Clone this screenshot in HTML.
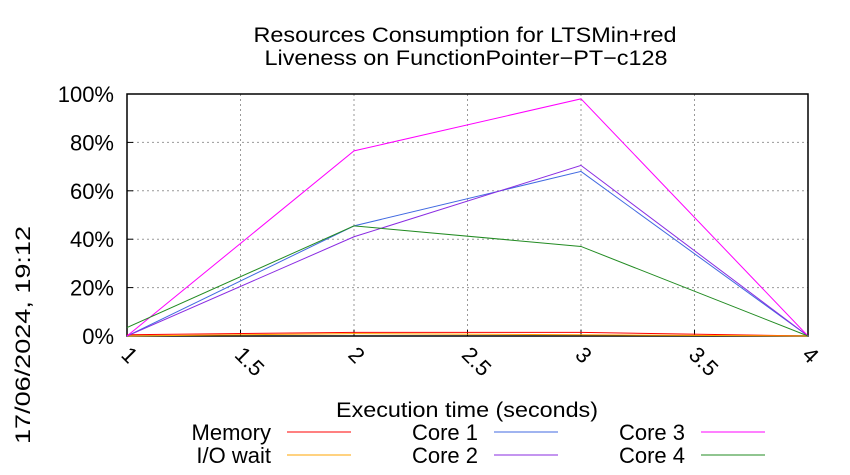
<!DOCTYPE html>
<html><head><meta charset="utf-8"><style>
body{margin:0;background:#fff;}
svg{display:block;font-family:"Liberation Sans",sans-serif;}
</style></head><body>
<svg id="chart" width="850" height="475" viewBox="0 0 850 475">
<text x="465" y="42" text-anchor="middle" font-size="21" textLength="423" lengthAdjust="spacingAndGlyphs">Resources Consumption for LTSMin+red</text>
<text x="466" y="65" text-anchor="middle" font-size="21" textLength="403" lengthAdjust="spacingAndGlyphs">Liveness on FunctionPointer−PT−c128</text>
<g id="grid"></g><g id="axes"></g><g id="series"></g>
<text x="467" y="417" text-anchor="middle" font-size="21" textLength="262" lengthAdjust="spacingAndGlyphs">Execution time (seconds)</text>
<text transform="translate(30,335) rotate(-90)" text-anchor="middle" font-size="21" textLength="218" lengthAdjust="spacingAndGlyphs">17/06/2024, 19:12</text>
<g id="legend"></g>
</svg>
<script>
const xValues=[1,2,3,4];
const memory=[0.5,1.5,1.5,0];
const ioWait=[0,1,0.5,0];
const core1=[0,45.5,68,0];
const core2=[0,41,70.5,0];
const core3=[0,76.5,98,0];
const core4=[3.5,45.5,37,0];
const xTicks=[1,1.5,2,2.5,3,3.5,4];
const xTickLabels=["1","1.5","2","2.5","3","3.5","4"];
const yTicks=[0,20,40,60,80,100];
const yTickLabels=["0%","20%","40%","60%","80%","100%"];
const NS="http://www.w3.org/2000/svg";
const L=127,R=808,T=94,B=336;
const xs=v=>L+(v-1)/3*(R-L);
const ys=v=>B-v/100*(B-T);
function mk(tag,attrs,parent){const e=document.createElementNS(NS,tag);for(const k in attrs)e.setAttribute(k,attrs[k]);parent.appendChild(e);return e;}
const grid=document.getElementById('grid'),axes=document.getElementById('axes'),ser=document.getElementById('series'),leg=document.getElementById('legend');
yTicks.forEach((t,i)=>{
 if(t>0&&t<100){const g=mk('line',{x1:L,x2:R,y1:ys(t),y2:ys(t),stroke:'#999','stroke-dasharray':'2,3','stroke-width':1},grid);
 
 }
 const tk=mk('line',{x1:L,x2:L+6,y1:ys(t),y2:ys(t),stroke:'#000'},axes);
 
 
 const tx=mk('text',{x:L-13,y:ys(t)+8,'text-anchor':'end','font-size':22},axes);
 tx.textContent=yTickLabels[i];
 
 
});
xTicks.forEach((t,i)=>{
 if(t>1&&t<4){const g=mk('line',{x1:xs(t),x2:xs(t),y1:T,y2:B,stroke:'#999','stroke-dasharray':'2,3','stroke-width':1},grid);
 
 }
 const tk=mk('line',{x1:xs(t),x2:xs(t),y1:B,y2:B-6,stroke:'#000'},axes);
 
 
 const tx=mk('text',{x:0,y:0,'font-size':22,transform:`translate(${xs(t)-7},${B+20}) rotate(45)`},axes);
 tx.textContent=xTickLabels[i];
 
 
});
const frame=mk('rect',{x:L,y:T,width:R-L,height:B-T,fill:'none',stroke:'#000','stroke-width':1.5},axes);


const series=[
 ['Memory',memory,'#ff0000','memory'],['I/O wait',ioWait,'#ffa500','io-wait'],
 ['Core 1',core1,'#4169e1','core-1'],['Core 2',core2,'#8a2be2','core-2'],
 ['Core 3',core3,'#ff00ff','core-3'],['Core 4',core4,'#228b22','core-4']];
const legPos=[[271,432],[271,455],[478,432],[478,455],[685,432],[685,455]];
series.forEach((s,i)=>{
 const p=mk('polyline',{points:s[1].map((v,j)=>xs(xValues[j])+','+ys(v)).join(' '),fill:'none',stroke:s[2],'stroke-width':1},ser);
 
 
 const [lx,ly]=legPos[i];
 const t=mk('text',{x:lx,y:ly+8,'text-anchor':'end','font-size':22},leg);
 t.textContent=s[0];
 
 
 const l=mk('line',{x1:lx+16,x2:lx+80,y1:ly,y2:ly,stroke:s[2],'stroke-width':1},leg);
 
 
});
</script>
</body></html>
